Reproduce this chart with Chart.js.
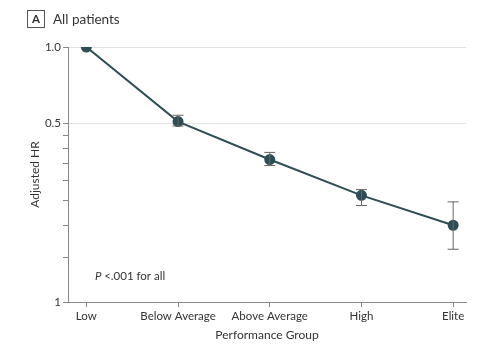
<!DOCTYPE html>
<html>
<head>
<meta charset="utf-8">
<script src="https://cdn.jsdelivr.net/npm/chart.js@4"></script>
<style>
  html, body { margin: 0; padding: 0; background: #fff; }
  #wrap { position: relative; width: 488px; height: 360px; }
  #title { position: absolute; left: 27px; top: 10px; font-family: Lato, sans-serif; font-size: 13.5px; color: #333; line-height: 18px; }
  #title .box { display: inline-block; box-sizing: border-box; border: 1px solid #555; width: 18px; height: 18px; line-height: 16px; text-align: center; font-weight: bold; font-size: 11.5px; margin-right: 8px; vertical-align: top; }
</style>
</head>
<body>
<div id="wrap">
  <canvas id="hrChart" width="488" height="360"></canvas>
  <div id="title"><span class="box">A</span>All patients</div>
</div>
<script>
var groups = ['Low', 'Below Average', 'Above Average', 'High', 'Elite'];
var hr = [1.0, 0.51, 0.362, 0.262, 0.2];
var lower = [1.0, 0.49, 0.343, 0.239, 0.161];
var upper = [1.0, 0.54, 0.386, 0.276, 0.247];
var yTicks = [0.1, 0.15, 0.2, 0.25, 0.3, 0.35, 0.4, 0.45, 0.5, 1.0];
var yLabels = { 1: '1.0', 0.5: '0.5', 0.1: '1' };

var lineColor = '#2e4d55';
var font = 'Lato, sans-serif';

// error bars + annotation
var extras = {
    id: 'extras',
    afterDatasetsDraw: function (chart) {
        var c = chart.ctx, xs = chart.scales.x, ys = chart.scales.y;
        c.save();
        c.strokeStyle = '#666';
        c.lineWidth = 1;
        for (var i = 0; i < hr.length; i++) {
            if (lower[i] === upper[i]) continue;
            var x = xs.getPixelForValue(i);
            var y1 = ys.getPixelForValue(lower[i]);
            var y2 = ys.getPixelForValue(upper[i]);
            c.beginPath();
            c.moveTo(x, y1); c.lineTo(x, y2);
            c.moveTo(x - 5.5, y1); c.lineTo(x + 5.5, y1);
            c.moveTo(x - 5.5, y2); c.lineTo(x + 5.5, y2);
            c.stroke();
        }
        c.fillStyle = '#333';
        c.textBaseline = 'middle';
        c.font = 'italic 11.5px ' + font;
        c.fillText('P', 95, 276);
        var w = c.measureText('P ').width;
        c.font = '11.5px ' + font;
        c.fillText('<.001 for all', 95 + w, 276);
        c.restore();
    }
};

var ctx = document.getElementById('hrChart').getContext('2d');
var chart = new Chart(ctx, {
    type: 'line',
    data: {
        datasets: [{
            data: hr.map(function (v, i) { return { x: i, y: v }; }),
            borderColor: lineColor,
            backgroundColor: lineColor,
            borderWidth: 2,
            pointRadius: 4.5,
            pointHoverRadius: 4.5,
            tension: 0
        }]
    },
    options: {
        responsive: false,
        animation: false,
        layout: { padding: { top: 47, right: 22, left: 28, bottom: 18 } },
        plugins: { legend: { display: false }, tooltip: { enabled: false } },
        scales: {
            x: {
                type: 'linear',
                min: -0.2,
                max: 4.14,
                afterBuildTicks: function (s) { s.ticks = groups.map(function (g, i) { return { value: i }; }); },
                afterFit: function (s) { s.height = 40; },
                grid: { drawOnChartArea: false, tickLength: 5, tickColor: '#888' },
                border: { color: '#888' },
                ticks: {
                    color: '#333', font: { family: font, size: 11.5 }, padding: 2, maxRotation: 0,
                    callback: function (v) { return groups[v]; }
                },
                title: { display: true, text: 'Performance Group', color: '#333', font: { family: font, size: 12 }, padding: { top: 1, bottom: 0 } }
            },
            y: {
                type: 'logarithmic',
                min: 0.1,
                max: 1.0,
                afterBuildTicks: function (s) { s.ticks = yTicks.map(function (v) { return { value: v }; }); },
                afterFit: function (s) { s.width = 40; },
                grid: {
                    tickLength: 5,
                    tickColor: '#888',
                    color: function (c) { return (c.tick && (c.tick.value === 1 || c.tick.value === 0.5)) ? '#e2e2e2' : 'rgba(0,0,0,0)'; }
                },
                border: { color: '#888' },
                ticks: {
                    color: '#333', font: { family: font, size: 11.5 }, padding: 2,
                    callback: function (v) { return yLabels[v] || ''; }
                },
                title: { display: true, text: 'Adjusted HR', color: '#333', font: { family: font, size: 12 }, padding: { top: 0, bottom: 0 } }
            }
        }
    },
    plugins: [extras]
});
</script>
</body>
</html>
